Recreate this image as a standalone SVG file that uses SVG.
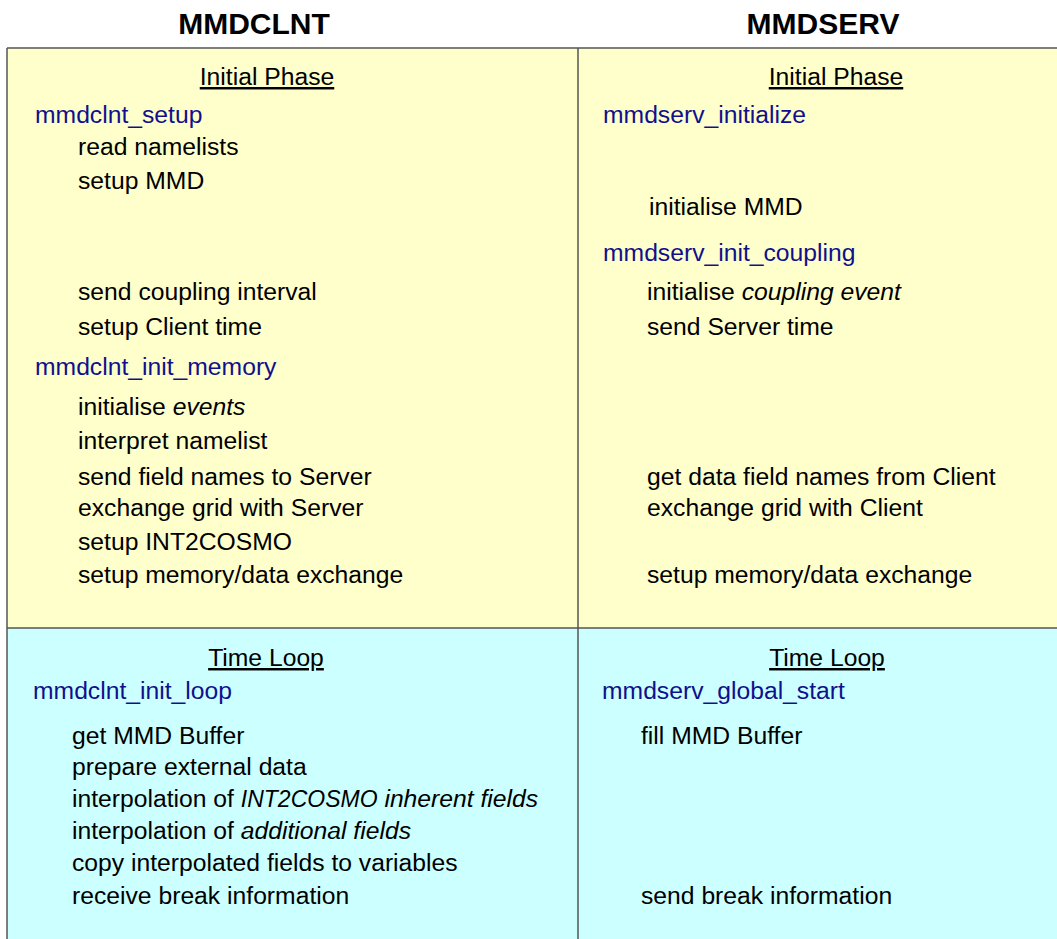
<svg xmlns="http://www.w3.org/2000/svg" width="1057" height="939" viewBox="0 0 1057 939">
<style>
text{font-family:"Liberation Sans",Arial,Helvetica,sans-serif;font-size:24.7px;fill:#000}
.title{font-weight:bold;font-size:30px;text-anchor:middle}
.head{text-anchor:middle;text-decoration:underline}
.fn{fill:#10108c}
.it{font-style:italic}
.sm{font-size:23px}
.grid{stroke:#555;stroke-width:1.5;fill:none}
</style>
<rect width="1057" height="939" fill="#fff"/>
<rect x="7" y="48" width="1050" height="580" fill="#ffffcc"/>
<rect x="7" y="628" width="1050" height="311" fill="#ccffff"/>
<g id="grid" class="grid">
<line x1="7" y1="48" x2="1057" y2="48"/>
<line x1="7" y1="48" x2="7" y2="939"/>
<line x1="578" y1="48" x2="578" y2="939"/>
<line x1="7" y1="628" x2="1057" y2="628"/>
</g>
<g id="titles">
<text class="title" x="254" y="34">MMDCLNT</text>
<text class="title" x="823" y="34">MMDSERV</text>
</g>
<g id="client-init">
<text class="head" x="267" y="85">Initial Phase</text>
<text class="fn" x="35" y="123">mmdclnt_setup</text>
<text x="78" y="155">read namelists</text>
<text x="78" y="189">setup MMD</text>
<text x="78" y="300">send coupling interval</text>
<text x="78" y="335">setup Client time</text>
<text class="fn" x="35" y="375">mmdclnt_init_memory</text>
<text x="78" y="415">initialise <tspan class="it">events</tspan></text>
<text x="78" y="449">interpret namelist</text>
<text x="78" y="485">send field names to Server</text>
<text x="78" y="516">exchange grid with Server</text>
<text x="78" y="550">setup INT2COSMO</text>
<text x="78" y="583">setup memory/data exchange</text>
</g>
<g id="server-init">
<text class="head" x="836" y="85">Initial Phase</text>
<text class="fn" x="603" y="123">mmdserv_initialize</text>
<text x="649" y="215">initialise MMD</text>
<text class="fn" x="603" y="261">mmdserv_init_coupling</text>
<text x="647" y="300">initialise <tspan class="it">coupling event</tspan></text>
<text x="647" y="335">send Server time</text>
<text x="647" y="485">get data field names from Client</text>
<text x="647" y="516">exchange grid with Client</text>
<text x="647" y="583">setup memory/data exchange</text>
</g>
<g id="client-loop">
<text class="head" x="266" y="666">Time Loop</text>
<text class="fn" x="33" y="699">mmdclnt_init_loop</text>
<text x="72" y="744">get MMD Buffer</text>
<text x="72" y="775">prepare external data</text>
<text x="72" y="807">interpolation of <tspan class="it"><tspan class="sm">INT2COSMO</tspan> inherent fields</tspan></text>
<text x="72" y="839">interpolation of <tspan class="it">additional fields</tspan></text>
<text x="72" y="871">copy interpolated fields to variables</text>
<text x="72" y="904">receive break information</text>
</g>
<g id="server-loop">
<text class="head" x="827" y="666">Time Loop</text>
<text class="fn" x="602" y="699">mmdserv_global_start</text>
<text x="641" y="744">fill MMD Buffer</text>
<text x="641" y="904">send break information</text>
</g>
</svg>
